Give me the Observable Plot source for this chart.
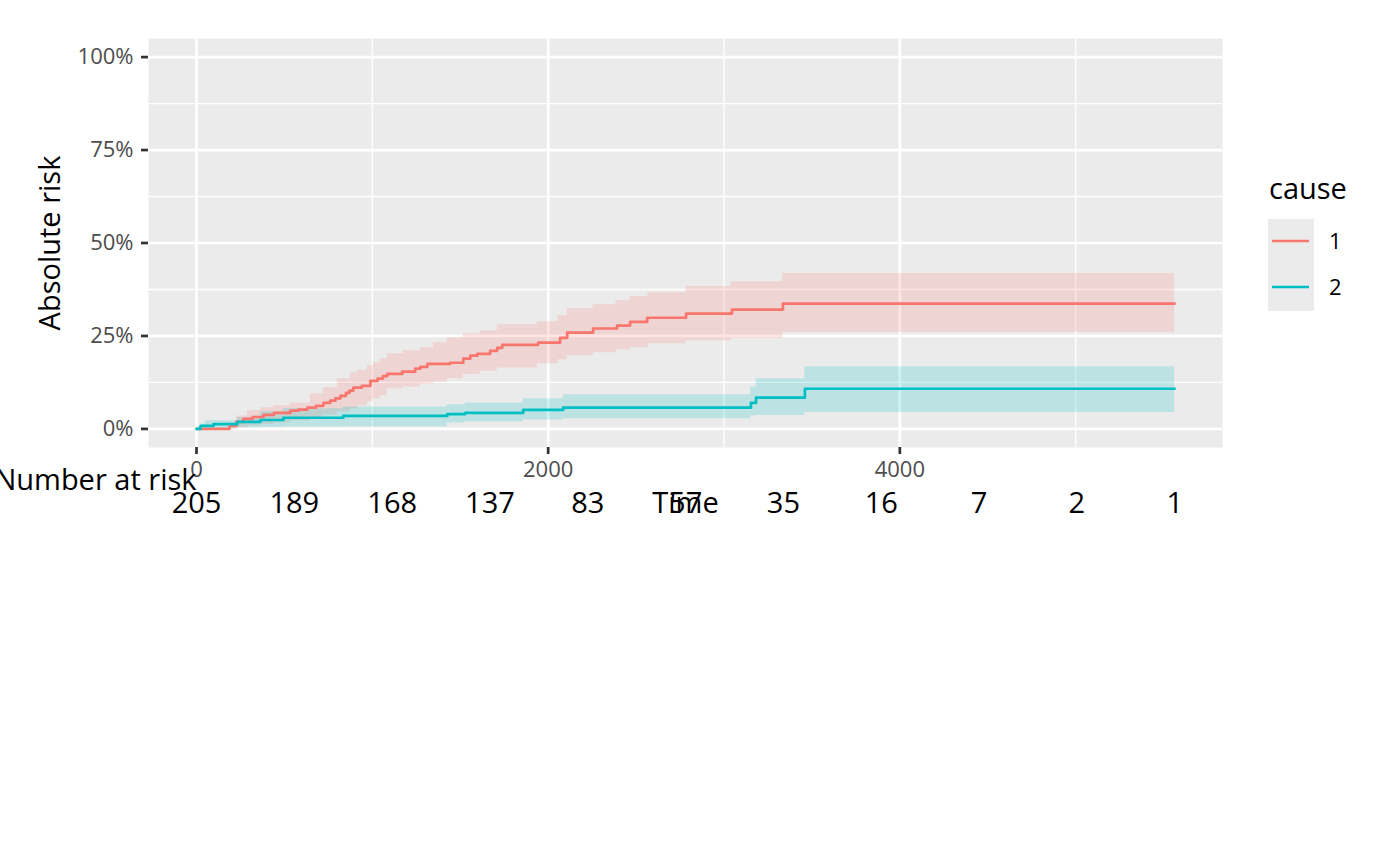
<!DOCTYPE html>
<html>
<head>
<meta charset="utf-8">
<script src="https://cdn.jsdelivr.net/npm/d3@7"></script>
<script src="https://cdn.jsdelivr.net/npm/@observablehq/plot@0.6"></script>
<style>
  html, body { margin: 0; padding: 0; background: white; }
  #chart svg { display: block; }
</style>
</head>
<body>
<div id="chart"></div>
<script>
// ---- Data ----
const causes = ["1", "2"];
const causeColors = ["#F8766D", "#00BFC4"];

// cause 1: cumulative incidence step curve (time, %)
const c1Time = [0, 188, 227, 267, 320, 381, 440, 534, 580, 631, 680, 722, 760, 790, 818, 850, 870, 892, 940, 989, 1030, 1060, 1085, 1170, 1244, 1273, 1313, 1443, 1517, 1557, 1597, 1670, 1710, 1739, 1943, 2068, 2108, 2256, 2392, 2466, 2563, 2784, 3045, 3335, 5563];
const c1Risk = [0, 0.8, 1.9, 2.7, 3.2, 3.8, 4.3, 4.9, 5.2, 5.7, 6.2, 7.0, 7.6, 8.2, 8.9, 9.7, 10.3, 11.1, 11.6, 12.9, 13.5, 14.2, 14.8, 15.4, 16.2, 16.7, 17.5, 17.8, 18.9, 19.7, 20.2, 21.0, 21.8, 22.6, 23.2, 24.5, 25.9, 27.0, 27.8, 28.8, 29.9, 31.0, 32.1, 33.7, 33.7];

// cause 1: confidence band
const c1BandTime = [0, 188, 227, 290, 364, 438, 534, 648, 722, 801, 875, 915, 972, 1006, 1045, 1085, 1176, 1273, 1347, 1426, 1517, 1614, 1710, 1938, 2057, 2108, 2256, 2386, 2466, 2568, 2784, 3040, 3335, 5563];
const c1Lower = [0, 0, 0.3, 0.8, 1.2, 1.6, 2.2, 3.0, 3.8, 4.6, 5.4, 6.2, 7.3, 8.1, 8.9, 10.8, 11.3, 12.1, 12.6, 13.5, 14.6, 15.6, 16.4, 17.5, 18.6, 19.7, 20.5, 21.3, 21.8, 22.9, 23.7, 24.4, 26.0, 26.0];
const c1Upper = [0, 1.5, 3.5, 4.9, 5.7, 6.2, 7.0, 9.4, 11.1, 13.5, 15.1, 15.8, 17.0, 17.8, 18.9, 20.2, 21.0, 21.8, 23.2, 24.5, 25.6, 26.4, 28.0, 28.8, 30.5, 32.3, 33.4, 34.5, 35.6, 36.7, 38.3, 39.6, 41.8, 41.8];

// cause 2: cumulative incidence step curve
const c2Time = [0, 23, 97, 233, 364, 494, 835, 1426, 1528, 1858, 2085, 3153, 3182, 3460, 5563];
const c2Risk = [0, 0.8, 1.3, 1.9, 2.4, 3.0, 3.5, 4.0, 4.3, 5.1, 5.7, 7.0, 8.4, 10.8, 10.8];

// cause 2: confidence band
const c2BandTime = [0, 23, 50, 233, 364, 494, 835, 1426, 1528, 1858, 2085, 3153, 3182, 3460, 5563];
const c2Lower = [0, 0, 0, 0.3, 0.4, 0.5, 0.6, 1.6, 1.9, 2.4, 2.7, 3.5, 3.6, 4.4, 4.4];
const c2Upper = [0, 1.3, 2.2, 3.0, 4.6, 5.4, 5.9, 6.5, 7.0, 8.1, 9.2, 11.3, 13.5, 16.7, 16.7];

// number at risk table
const riskTimes = [0, 556, 1113, 1669, 2225, 2782, 3338, 3894, 4450, 5007, 5563];
const riskCounts = [205, 189, 168, 137, 83, 57, 35, 16, 7, 2, 1];

// axis ticks
const xMajor = [0, 2000, 4000];
const xMinor = [1000, 3000, 5000];
const yMajor = [0, 25, 50, 75, 100];
const yMinor = [12.5, 37.5, 62.5, 87.5];
const yTickLabels = ["0%", "25%", "50%", "75%", "100%"];

// ---- Build tables ----
const lineData = [
  ...c1Time.map((t, i) => ({t, r: c1Risk[i], cause: causes[0]})),
  ...c2Time.map((t, i) => ({t, r: c2Risk[i], cause: causes[1]}))
];
const band1 = c1BandTime.map((t, i) => ({t, lo: c1Lower[i], hi: c1Upper[i], cause: causes[0]}));
const band2 = c2BandTime.map((t, i) => ({t, lo: c2Lower[i], hi: c2Upper[i], cause: causes[1]}));
const riskData = riskTimes.map((t, i) => ({t, n: String(riskCounts[i])}));

const FONT = "'Open Sans', 'Noto Sans', sans-serif";
const W = 1400, H = 866;
const mTop = 38, mLeft = 148, mRight = 178, mBottom = 419;

const chart = Plot.plot({
  width: W,
  height: H,
  marginTop: mTop,
  marginLeft: mLeft,
  marginRight: mRight,
  marginBottom: mBottom,
  style: {fontFamily: FONT, background: "white", overflow: "visible"},
  x: {domain: [-273, 5835]},
  y: {domain: [-5, 105]},
  color: {domain: causes, range: causeColors},
  marks: [
    Plot.frame({fill: "#EBEBEB", stroke: "none"}),
    Plot.ruleY(yMinor, {stroke: "white", strokeWidth: 1.35}),
    Plot.ruleX(xMinor, {stroke: "white", strokeWidth: 1.35}),
    Plot.ruleY(yMajor, {stroke: "white", strokeWidth: 2.7}),
    Plot.ruleX(xMajor, {stroke: "white", strokeWidth: 2.7}),
    Plot.areaY(band1, {x: "t", y1: "lo", y2: "hi", curve: "step-after", fill: causeColors[0], fillOpacity: 0.2}),
    Plot.areaY(band2, {x: "t", y1: "lo", y2: "hi", curve: "step-after", fill: causeColors[1], fillOpacity: 0.2}),
    Plot.line(lineData, {x: "t", y: "r", z: "cause", stroke: "cause", curve: "step-after", strokeWidth: 2.7}),
    Plot.axisX({ticks: xMajor, tickSize: 7, tickPadding: 7, fontSize: 22, fill: "#4D4D4D", stroke: "#333333", strokeWidth: 2.7, label: null, tickFormat: d => String(d)}),
    Plot.axisY({ticks: yMajor, tickSize: 7, tickPadding: 8, fontSize: 22, fill: "#4D4D4D", stroke: "#333333", strokeWidth: 2.7, label: null, tickFormat: d => yTickLabels[yMajor.indexOf(d)]}),
    Plot.text(["Absolute risk"], {text: d => d, frameAnchor: "left", textAnchor: "middle", lineAnchor: "middle", dx: -98, rotate: -90, fontSize: 29, fill: "black"}),
    Plot.text(riskData, {x: "t", text: "n", frameAnchor: "bottom", lineAnchor: "middle", textAnchor: "middle", dy: 56, fontSize: 29, fill: "black"}),
    Plot.text(["Number at risk"], {x: () => riskTimes[0], text: d => d, frameAnchor: "bottom", lineAnchor: "middle", dy: 33, textAnchor: "end", fontSize: 29, fill: "black"}),
    Plot.text(["Time"], {text: d => d, frameAnchor: "bottom", lineAnchor: "middle", textAnchor: "middle", dy: 56, fontSize: 29, fill: "black"})
  ]
});

document.getElementById("chart").appendChild(chart);

// ---- Legend (right of panel) ----
const svg = d3.select(chart);
const lg = svg.append("g").attr("font-family", FONT).attr("text-anchor", "start");
lg.append("text").attr("x", 1269).attr("y", 199).attr("font-size", 29).attr("fill", "black").text("cause");
lg.append("rect").attr("x", 1268).attr("y", 219).attr("width", 46).attr("height", 92).attr("fill", "#EBEBEB");
causes.forEach((c, i) => {
  const cy = 241 + i * 46;
  lg.append("line").attr("x1", 1272).attr("x2", 1309).attr("y1", cy).attr("y2", cy)
    .attr("stroke", causeColors[i]).attr("stroke-width", 2.7);
  lg.append("text").attr("x", 1329).attr("y", cy + 8).attr("font-size", 22).attr("fill", "black").text(c);
});
</script>
</body>
</html>
